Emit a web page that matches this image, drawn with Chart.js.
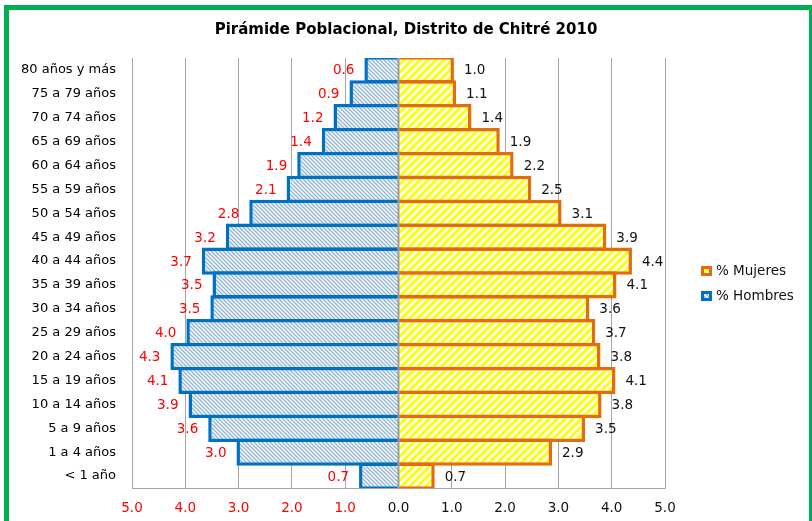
<!DOCTYPE html>
<html><head><meta charset="utf-8">
<script src="https://cdn.jsdelivr.net/npm/chart.js@4.4.1/dist/chart.umd.min.js"></script>
<style>
html,body{margin:0;padding:0;background:#fff;overflow:hidden}
#wrap{position:relative;width:812px;height:521px}
#frame{position:absolute;left:4px;top:5px;width:810px;height:540px;border:5px solid #00B050;box-sizing:border-box;pointer-events:none}
canvas{display:block}
</style></head><body>
<div id="wrap"><canvas id="c" width="812" height="521"></canvas><div id="frame"></div></div>
<script>
const titleText = 'Pirámide Poblacional, Distrito de Chitré 2010';
const categories = ['80 años y más','75 a 79 años','70 a 74 años','65 a 69 años','60 a 64 años','55 a 59 años','50 a 54 años','45 a 49 años','40 a 44 años','35 a 39 años','30 a 34 años','25 a 29 años','20 a 24 años','15 a 19 años','10 a 14 años','5 a 9 años','1 a 4 años','< 1 año'];
const hombres = [0.64, 0.92, 1.22, 1.44, 1.90, 2.10, 2.80, 3.24, 3.69, 3.49, 3.53, 3.98, 4.28, 4.13, 3.94, 3.57, 3.04, 0.74];
const mujeres = [1.04, 1.08, 1.37, 1.90, 2.16, 2.49, 3.06, 3.90, 4.38, 4.09, 3.58, 3.69, 3.79, 4.07, 3.81, 3.50, 2.88, 0.68];
const xTicks = [-5, -4, -3, -2, -1, 0, 1, 2, 3, 4, 5];
const seriesNames = ['% Mujeres', '% Hombres'];

const canvas = document.getElementById('c');
const mainCtx = canvas.getContext('2d');
function stripes(size, color, lw, dir) {
  const c = document.createElement('canvas'); c.width = c.height = size;
  const g = c.getContext('2d');
  g.fillStyle = '#fff'; g.fillRect(0, 0, size, size);
  g.strokeStyle = color; g.lineWidth = lw; g.lineCap = 'square';
  g.beginPath();
  for (let k = -1; k <= 1; k++) {
    if (dir === '/') { g.moveTo(k * size, size); g.lineTo(k * size + size, 0); }
    else { g.moveTo(k * size, 0); g.lineTo(k * size + size, size); }
  }
  g.stroke();
  return mainCtx.createPattern(c, 'repeat');
}
const yellowPat = stripes(8, '#FFFF00', 3, '/');
const bluePat = stripes(4, '#8FB4DE', 1.4, '\\');
const FONT = '"DejaVu Sans", sans-serif';

const customPlugin = {
  id: 'custom',
  afterLayout(chart) {
    if (chart.titleBlock) { chart.titleBlock.left = 0; chart.titleBlock.right = chart.width; }
  },
  afterDatasetsDraw(chart) {
    const ctx = chart.ctx, xs = chart.scales.x, area = chart.chartArea;
    const x0 = xs.getPixelForValue(0);
    ctx.save();
    ctx.strokeStyle = '#9b9b9b'; ctx.lineWidth = 2;
    ctx.beginPath(); ctx.moveTo(x0, area.top); ctx.lineTo(x0, area.bottom); ctx.stroke();
    ctx.font = '13.5px ' + FONT; ctx.textBaseline = 'middle';
    chart.data.datasets.forEach((ds, i) => {
      const meta = chart.getDatasetMeta(i);
      meta.data.forEach((el, j) => {
        const v = ds.data[j];
        const txt = Math.abs(v).toFixed(1);
        if (v < 0) { ctx.fillStyle = '#FF0000'; ctx.textAlign = 'right'; ctx.fillText(txt, el.x - 10, el.y + 1); }
        else { ctx.fillStyle = '#111'; ctx.textAlign = 'left'; ctx.fillText(txt, el.x + 10, el.y + 1); }
      });
    });
    ctx.restore();
  },
  afterDraw(chart) {
    const ctx = chart.ctx;
    ctx.save();
    const items = chart.data.datasets.map(ds => ({ label: ds.label, fill: ds.backgroundColor, stroke: ds.borderColor }));
    items.forEach((it, i) => {
      const y = 266 + i * 25;
      ctx.fillStyle = it.fill; ctx.fillRect(701, y, 11, 10);
      ctx.strokeStyle = it.stroke; ctx.lineWidth = 3; ctx.strokeRect(702.5, y + 1.5, 8, 7);
      ctx.fillStyle = '#111'; ctx.font = '13.5px ' + FONT; ctx.textAlign = 'left'; ctx.textBaseline = 'middle';
      ctx.fillText(it.label, 716, y + 5.5);
    });
    ctx.restore();
  }
};

new Chart(canvas, {
  type: 'bar',
  data: {
    labels: categories,
    datasets: [
      { label: seriesNames[0], data: mujeres, backgroundColor: yellowPat, borderColor: '#E46C0A', borderWidth: 3.5, stack: 'p' },
      { label: seriesNames[1], data: hombres.map(v => -v), backgroundColor: bluePat, borderColor: '#0070C0', borderWidth: 3.5, stack: 'p' }
    ]
  },
  options: {
    indexAxis: 'y',
    responsive: false,
    animation: false,
    devicePixelRatio: 1,
    barPercentage: 1,
    categoryPercentage: 1.14,
    layout: { padding: { left: 5, right: 147, top: 10, bottom: 0 } },
    plugins: {
      legend: { display: false },
      tooltip: { enabled: false },
      title: { display: true, text: titleText, color: '#000', font: { family: FONT, size: 15, weight: 'bold', lineHeight: 1.2 }, padding: { top: 11, bottom: 19 } }
    },
    scales: {
      x: {
        stacked: true, min: -5, max: 5,
        afterBuildTicks: s => { s.ticks = xTicks.map(v => ({ value: v })); },
        afterFit: s => { s.height = 33; },
        grid: { color: '#a6a6a6', lineWidth: 1, drawTicks: false },
        border: { display: true, color: '#a6a6a6', width: 1 },
        ticks: {
          padding: 12,
          font: { family: FONT, size: 13.5 },
          color: c => (c.tick && c.tick.value < 0) ? '#FF0000' : '#111',
          callback: v => Math.abs(v).toFixed(1)
        }
      },
      y: {
        stacked: true,
        afterFit: s => { s.width = 127; },
        grid: { display: false, drawTicks: false },
        border: { display: false },
        ticks: { padding: 16, font: { family: FONT, size: 13 }, color: '#000', autoSkip: false }
      }
    }
  },
  plugins: [customPlugin]
});
</script>
</body></html>
